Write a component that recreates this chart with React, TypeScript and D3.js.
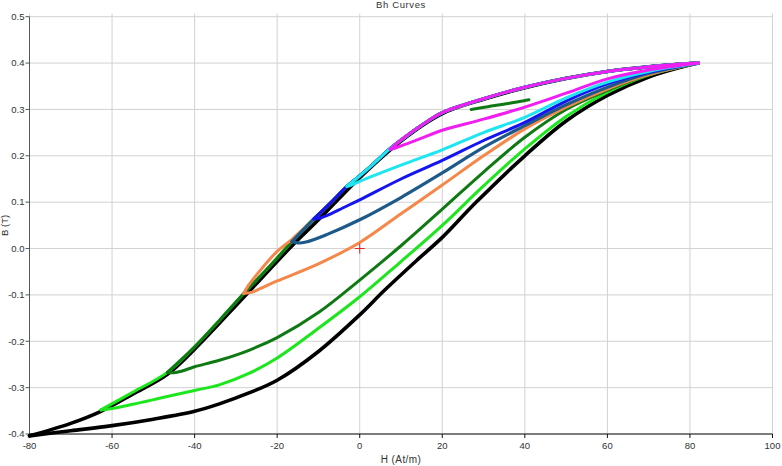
import React from "react";
import * as d3 from "d3";

type P = [number, number];

const X_TICKS = [-80, -60, -40, -20, 0, 20, 40, 60, 80, 100];
const Y_TICKS = [-0.4, -0.3, -0.2, -0.1, 0.0, 0.1, 0.2, 0.3, 0.4, 0.5];
const TITLE = "Bh Curves";
const X_LABEL = "H (At/m)";
const Y_LABEL = "B (T)";

// shared descending (upper) branch of minor loops
const commonDesc: P[] = [
  [82, 0.4], [75, 0.396], [70, 0.392], [60, 0.382], [50, 0.367], [40, 0.348],
  [30, 0.323], [20, 0.293], [15, 0.266], [10, 0.234], [7.4, 0.216], [3, 0.18],
  [0, 0.157], [-3.1, 0.134], [-7, 0.099], [-11.1, 0.064], [-16.4, 0.015],
  [-22, -0.04], [-28.1, -0.097], [-34, -0.155], [-40, -0.212], [-46.6, -0.267],
  [-55, -0.31], [-62.7, -0.348],
];

const blackDesc: P[] = [
  [82, 0.4], [70, 0.392], [60, 0.382], [50, 0.367], [40, 0.347], [30, 0.322],
  [20, 0.291], [10, 0.232], [0, 0.153], [-10, 0.062], [-16.4, 0.006],
  [-28, -0.104], [-40, -0.217], [-46.6, -0.271], [-55, -0.314], [-62.7, -0.351],
  [-70, -0.377], [-80, -0.404],
];
const blackAsc: P[] = [
  [-80, -0.404], [-70, -0.393], [-60, -0.382], [-50, -0.368], [-40, -0.351],
  [-34, -0.335], [-27, -0.312], [-20, -0.284], [-10, -0.222], [0, -0.143],
  [6, -0.09], [14, -0.024], [20, 0.024], [28, 0.098], [40, 0.2], [50, 0.275],
  [60, 0.33], [70, 0.37], [80, 0.396], [82, 0.4],
];
const ltGreenAsc: P[] = [
  [-62.7, -0.348], [-60, -0.345], [-55, -0.336], [-48, -0.322], [-40, -0.306],
  [-34, -0.294], [-27, -0.27], [-20, -0.236], [-10, -0.172], [0, -0.104],
  [10, -0.028], [20, 0.05], [30, 0.135], [40, 0.215], [50, 0.285], [60, 0.337],
  [70, 0.374], [82, 0.4],
];
const dkGreenAsc: P[] = [
  [-46.6, -0.267], [-45, -0.268], [-43, -0.264], [-40, -0.255], [-34, -0.241],
  [-27, -0.22], [-20, -0.192], [-10, -0.138], [0, -0.068], [10, 0.006],
  [20, 0.085], [30, 0.165], [40, 0.24], [50, 0.3], [60, 0.341], [70, 0.375],
  [82, 0.4],
];
const dkGreenShort: P[] = [
  [27, 0.3], [31, 0.306], [36, 0.313], [41, 0.321],
];
const orangeTipDesc: P[] = [
  [-16.4, 0.02], [-20, -0.006], [-24, -0.046], [-27, -0.08], [-28.1, -0.097],
];
const orangeAsc: P[] = [
  [-28.1, -0.097], [-26, -0.094], [-24, -0.086], [-20, -0.07], [-10, -0.033],
  [0, 0.013], [10, 0.075], [20, 0.137], [30, 0.2], [40, 0.258], [50, 0.305],
  [60, 0.344], [70, 0.375], [82, 0.4],
];
const tealAsc: P[] = [
  [-16.4, 0.015], [-15, 0.012], [-13, 0.014], [-8, 0.03], [0, 0.062],
  [10, 0.11], [20, 0.163], [30, 0.218], [40, 0.265], [50, 0.31], [60, 0.348],
  [70, 0.378], [82, 0.4],
];
const blueAsc: P[] = [
  [-11.1, 0.064], [-9.5, 0.066], [-8, 0.071], [-4, 0.088], [0, 0.105],
  [10, 0.15], [20, 0.19], [30, 0.233], [40, 0.272], [50, 0.318],
  [60, 0.355], [70, 0.38], [82, 0.4],
];
const cyanAsc: P[] = [
  [-3.1, 0.134], [-2, 0.137], [0, 0.145], [10, 0.18], [20, 0.213],
  [30, 0.25], [40, 0.283], [50, 0.325], [60, 0.359], [70, 0.382], [82, 0.4],
];
const magentaAsc: P[] = [
  [7.4, 0.214], [9, 0.218], [12, 0.228], [15, 0.238], [20, 0.255],
  [30, 0.279], [40, 0.305], [50, 0.335], [60, 0.366], [70, 0.385], [82, 0.4],
];
const origin: P = [0, 0];

const W = 782;
const H = 466;
const FONT = "'Liberation Sans', Arial, sans-serif";

function descTo(tip: P): P[] {
  return commonDesc.filter((p) => p[0] > tip[0]).concat([tip]);
}

export default function App() {
  const x = d3.scaleLinear().domain([-80, 100]).range([29.5, 772.5]);
  const y = d3.scaleLinear().domain([-0.4, 0.5]).range([434, 16.7]);
  const line = d3
    .line<P>()
    .x((d) => x(d[0]))
    .y((d) => y(d[1]))
    .curve(d3.curveCatmullRom.alpha(0.5));

  const loops: { color: string; width: number; paths: P[][] }[] = [
    { color: "#000000", width: 3.6, paths: [blackDesc, blackAsc] },
    { color: "#1ee61e", width: 3, paths: [descTo(ltGreenAsc[0]), ltGreenAsc] },
    { color: "#0f7a14", width: 3, paths: [descTo(dkGreenAsc[0]), dkGreenAsc, dkGreenShort] },
    {
      color: "#f5874a",
      width: 3,
      paths: [commonDesc.filter((p) => p[0] > -16.4).concat(orangeTipDesc), orangeAsc],
    },
    { color: "#1d5a8a", width: 3.2, paths: [descTo(tealAsc[0]), tealAsc] },
    { color: "#1414f0", width: 3, paths: [descTo(blueAsc[0]), blueAsc] },
    { color: "#1ee6f0", width: 3, paths: [descTo(cyanAsc[0]), cyanAsc] },
    { color: "#f01ef0", width: 3, paths: [descTo(magentaAsc[0]), magentaAsc] },
  ];

  const [x0, x1] = x.range();
  const [y0, y1] = y.range();

  return (
    <svg
      width={W}
      height={H}
      style={{ position: "absolute", left: 0, top: 0, background: "#fff" }}
      fontFamily={FONT}
    >
      <rect x={0} y={0} width={W} height={H} fill="#fff" />
      {/* grid */}
      {X_TICKS.map((t) => (
        <line key={"gx" + t} x1={x(t)} x2={x(t)} y1={y1 - 3} y2={y0} stroke="#d2d2d2" strokeWidth={1} />
      ))}
      {Y_TICKS.map((t) => (
        <line key={"gy" + t} x1={x0} x2={x1} y1={y(t)} y2={y(t)} stroke="#d2d2d2" strokeWidth={1} />
      ))}
      {/* axes */}
      <line x1={x0} x2={x0} y1={y1} y2={y0} stroke="#555" strokeWidth={1} />
      <line x1={x0} x2={x1} y1={y0} y2={y0} stroke="#111" strokeWidth={1} />
      {Y_TICKS.map((t) => (
        <g key={"ty" + t}>
          <line x1={x0 - 4} x2={x0} y1={y(t)} y2={y(t)} stroke="#555" />
          <text x={x0 - 5} y={y(t)} dy="0.35em" textAnchor="end" fontSize={9.5} fill="#333">
            {t.toFixed(1)}
          </text>
        </g>
      ))}
      {X_TICKS.map((t) => (
        <g key={"tx" + t}>
          <line x1={x(t)} x2={x(t)} y1={y0} y2={y0 + 4} stroke="#111" />
          <text x={x(t)} y={y0 + 15} textAnchor="middle" fontSize={9.5} fill="#333">
            {t}
          </text>
        </g>
      ))}
      {/* curves */}
      {loops.map((l, i) =>
        l.paths.map((p, j) => (
          <path
            key={"c" + i + "_" + j}
            d={line(p) || ""}
            fill="none"
            stroke={l.color}
            strokeWidth={l.width}
            strokeLinecap="round"
            strokeLinejoin="round"
          />
        ))
      )}
      {/* origin cross */}
      <g stroke="#e02020" strokeWidth={1}>
        <line x1={x(origin[0]) - 5} x2={x(origin[0]) + 5} y1={y(origin[1])} y2={y(origin[1])} />
        <line x1={x(origin[0])} x2={x(origin[0])} y1={y(origin[1]) - 5} y2={y(origin[1]) + 5} />
      </g>
      {/* labels */}
      <text x={(x0 + x1) / 2} y={8} textAnchor="middle" fontSize={9.5} letterSpacing={0.6} fill="#333">
        {TITLE}
      </text>
      <text x={(x0 + x1) / 2} y={463} textAnchor="middle" fontSize={10} letterSpacing={0.4} fill="#333">
        {X_LABEL}
      </text>
      <text
        transform={`translate(8, ${(y0 + y1) / 2}) rotate(-90)`}
        textAnchor="middle"
        fontSize={9.5}
        fill="#333"
      >
        {Y_LABEL}
      </text>
    </svg>
  );
}
